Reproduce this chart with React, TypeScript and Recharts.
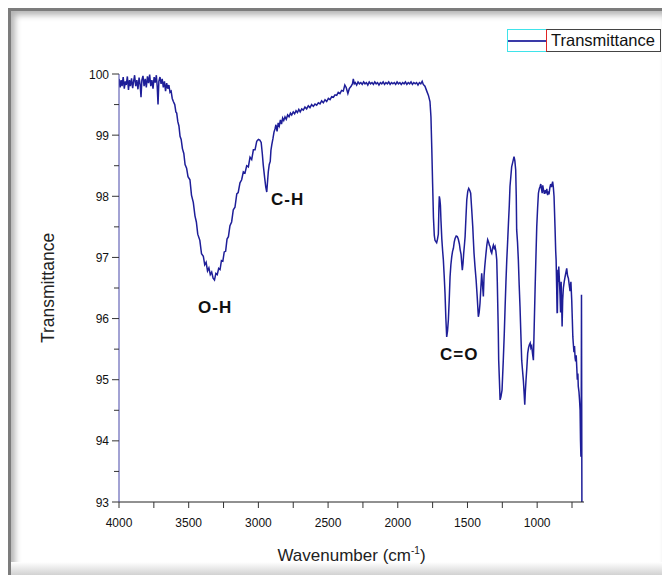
import { LineChart, Line, XAxis, YAxis, Label } from "recharts";

// FTIR spectrum (wavenumber descending)
const wavenumber = [
  4000, 3992, 3985, 3978, 3970, 3962, 3955, 3948, 3940, 3932, 3925, 3918, 3910, 3902, 3895, 3888,
  3880, 3872, 3864, 3856, 3848, 3842, 3836, 3828, 3820, 3812, 3804, 3796, 3788, 3780, 3772, 3764,
  3756, 3748, 3740, 3732, 3726, 3720, 3714, 3706, 3698, 3690, 3682, 3674, 3666, 3658, 3650, 3642,
  3634, 3626, 3618, 3610, 3600, 3592, 3586, 3578, 3570, 3562, 3554, 3545, 3535, 3526, 3515, 3505,
  3491, 3480, 3467, 3455, 3445, 3435, 3420, 3408, 3395, 3385, 3375, 3365, 3355, 3345, 3335, 3325,
  3315, 3305, 3295, 3285, 3275, 3265, 3255, 3245, 3235, 3225, 3215, 3204, 3192, 3180, 3168, 3155,
  3145, 3132, 3120, 3108, 3096, 3084, 3072, 3060, 3048, 3036, 3024, 3012, 3000, 2990, 2980, 2972,
  2965, 2955, 2947, 2940, 2934, 2929, 2922, 2915, 2910, 2904, 2895, 2888, 2881, 2874, 2866, 2858,
  2850, 2842, 2834, 2826, 2818, 2809, 2800, 2790, 2780, 2770, 2761, 2750, 2740, 2730, 2720, 2710,
  2700, 2689, 2678, 2666, 2654, 2642, 2630, 2618, 2606, 2594, 2582, 2570, 2558, 2546, 2534, 2522,
  2510, 2498, 2486, 2474, 2462, 2450, 2438, 2427, 2415, 2403, 2391, 2380, 2370, 2358, 2348, 2335,
  2325, 2319, 2312, 2305, 2295, 2285, 2275, 2265, 2255, 2245, 2235, 2225, 2215, 2205, 2195, 2185,
  2175, 2165, 2155, 2145, 2135, 2125, 2115, 2105, 2095, 2085, 2075, 2065, 2055, 2045, 2035, 2025,
  2015, 2005, 1995, 1985, 1975, 1965, 1955, 1945, 1935, 1925, 1915, 1905, 1895, 1885, 1875, 1865,
  1855, 1845, 1835, 1825, 1817, 1805, 1792, 1780, 1769, 1762, 1756, 1750, 1744, 1738, 1733, 1727,
  1721, 1715, 1709, 1705, 1702, 1698, 1694, 1690, 1684, 1678, 1673, 1667, 1661, 1655, 1649, 1643,
  1637, 1631, 1625, 1619, 1613, 1607, 1601, 1595, 1589, 1581, 1573, 1566, 1558, 1552, 1546, 1541,
  1537, 1532, 1527, 1522, 1517, 1511, 1505, 1498, 1491, 1484, 1477, 1470, 1462, 1458, 1453, 1446,
  1438, 1430, 1422, 1416, 1410, 1404, 1398, 1392, 1386, 1381, 1376, 1372, 1367, 1361, 1355, 1348,
  1343, 1338, 1332, 1326, 1320, 1314, 1308, 1302, 1296, 1290, 1286, 1283, 1279, 1276, 1271, 1266,
  1260, 1252, 1248, 1243, 1236, 1230, 1224, 1218, 1212, 1206, 1200, 1195, 1189, 1183, 1175, 1166,
  1160, 1154, 1150, 1147, 1141, 1135, 1129, 1123, 1117, 1111, 1105, 1099, 1094, 1089, 1085, 1080,
  1074, 1068, 1062, 1056, 1050, 1045, 1039, 1033, 1027, 1021, 1015, 1009, 1003, 997, 991, 985,
  979, 974, 969, 964, 960, 954, 948, 942, 936, 931, 925, 920, 915, 909, 903, 897,
  889, 884, 879, 872, 867, 864, 860, 857, 855, 851, 848, 845, 840, 836, 832, 828,
  824, 821, 817, 812, 806, 800, 794, 788, 782, 776, 770, 764, 758, 752, 748, 744,
  741, 736, 732, 728, 724, 720, 716, 712, 708, 705, 700, 696, 692, 689, 686, 684,
  682, 679,
];

const transmittance = [
  99.92, 99.78, 99.9, 99.8, 99.95, 99.76, 99.88, 99.82, 99.96, 99.74, 99.9, 99.8, 99.93, 99.77, 99.88, 99.98,
  99.8, 99.9, 99.75, 99.94, 99.82, 99.62, 99.9, 99.97, 99.8, 99.92, 99.78, 99.96, 99.85, 99.99, 99.8, 99.9,
  99.76, 99.95, 99.86, 99.98, 99.8, 99.5, 99.88, 99.95, 99.84, 99.92, 99.78, 99.88, 99.72, 99.85, 99.76, 99.82,
  99.7, 99.72, 99.6, 99.55, 99.5, 99.38, 99.36, 99.22, 99.15, 98.98, 98.93, 98.78, 98.7, 98.52, 98.46, 98.32,
  98.27, 98.02, 97.9, 97.68, 97.58, 97.38, 97.28, 97.06, 97.02, 96.88, 96.92, 96.78, 96.83, 96.72, 96.76, 96.66,
  96.63, 96.74, 96.72, 96.82, 96.8, 96.95, 96.94, 97.09, 97.1, 97.3, 97.34, 97.52, 97.58, 97.78, 97.82, 98.04,
  98.06, 98.22, 98.27, 98.4, 98.38, 98.5, 98.48, 98.64, 98.6, 98.76, 98.76, 98.9, 98.93, 98.92, 98.88, 98.7,
  98.51, 98.3, 98.15, 98.07, 98.25, 98.4, 98.52, 98.57, 98.75, 98.84, 98.95, 99.05, 99.1, 99.17, 99.06, 99.2,
  99.15, 99.25, 99.18, 99.28, 99.24, 99.3, 99.26, 99.33, 99.3, 99.36, 99.33, 99.38, 99.35, 99.4, 99.37, 99.42,
  99.38, 99.43, 99.41, 99.46, 99.43, 99.48, 99.45, 99.5, 99.47, 99.51, 99.49, 99.53, 99.51, 99.56, 99.53, 99.58,
  99.55, 99.6, 99.58, 99.63, 99.62, 99.66, 99.65, 99.7, 99.68, 99.73, 99.72, 99.82, 99.78, 99.68, 99.76, 99.8,
  99.84, 99.92, 99.84, 99.86, 99.82, 99.87, 99.84, 99.86, 99.83, 99.87, 99.84, 99.86, 99.82, 99.87, 99.84, 99.86,
  99.83, 99.87, 99.84, 99.86, 99.82, 99.86, 99.84, 99.87, 99.83, 99.86, 99.84, 99.87, 99.83, 99.86, 99.84, 99.86,
  99.83, 99.87, 99.84, 99.86, 99.83, 99.86, 99.84, 99.87, 99.83, 99.86, 99.84, 99.87, 99.83, 99.86, 99.84, 99.86,
  99.82, 99.86, 99.84, 99.88, 99.83, 99.8, 99.72, 99.65, 99.55, 99.3, 98.78, 98.2, 97.65, 97.36, 97.28, 97.26,
  97.24, 97.3, 97.38, 97.8, 98.0, 97.95, 97.85, 97.6, 97.3, 97.1, 96.96, 96.7, 96.41, 96.0, 95.7, 95.8,
  95.98, 96.3, 96.68, 96.88, 97.01, 97.1, 97.15, 97.25, 97.31, 97.35, 97.34, 97.3, 97.22, 97.12, 97.05, 96.9,
  96.79, 96.9, 97.07, 97.2, 97.34, 97.65, 97.94, 98.08, 98.13, 98.1, 98.05, 97.8, 97.5, 97.3, 97.07, 96.85,
  96.63, 96.35, 96.03, 96.1, 96.25, 96.5, 96.74, 96.55, 96.36, 96.7, 96.85, 96.95, 97.07, 97.2, 97.29, 97.25,
  97.2, 97.18, 97.1, 97.07, 97.15, 97.2, 97.15, 97.18, 97.1, 96.96, 96.6, 96.25, 95.8, 95.32, 95.0, 94.67,
  94.72, 94.83, 95.05, 95.32, 95.75, 96.19, 96.6, 96.96, 97.25, 97.56, 97.85, 98.16, 98.32, 98.48, 98.56, 98.65,
  98.58, 98.43, 98.0, 97.45, 97.25, 96.96, 96.55, 96.19, 95.75, 95.32, 95.15, 94.99, 94.8, 94.59, 94.8, 94.99,
  95.2, 95.43, 95.52, 95.57, 95.6, 95.52, 95.55, 95.42, 95.32, 95.9, 96.47, 97.0, 97.5, 97.8, 98.05, 98.12,
  98.16, 98.2, 98.12, 98.05, 98.18, 98.1, 98.04, 98.1, 98.05, 98.12, 98.02, 98.08, 98.03, 98.14, 98.2, 98.15,
  98.24, 98.15, 98.0, 97.5, 97.1, 96.96, 96.5, 96.1, 96.09, 96.8, 96.6, 96.85, 96.6, 96.4, 96.1, 96.6,
  96.2, 95.87, 96.3, 96.5, 96.6, 96.68, 96.75, 96.82, 96.7, 96.66, 96.55, 96.45, 96.6, 96.3, 96.0, 95.7,
  95.6, 95.45, 95.55, 95.36, 95.3, 95.4, 95.21, 95.0, 95.1, 94.89, 94.8, 94.67, 94.5, 94.0, 93.74, 94.2,
  96.39, 93.0,
];

const xTicks = [4000, 3750, 3500, 3250, 3000, 2750, 2500, 2250, 2000, 1750, 1500, 1250, 1000, 750];
const yTicks = [93, 93.5, 94, 94.5, 95, 95.5, 96, 96.5, 97, 97.5, 98, 98.5, 99, 99.5, 100];

const data = wavenumber.map((w, i) => ({ w, t: transmittance[i] }));

const FONT = "Arial, 'Liberation Sans', sans-serif";

function YTick(props: any) {
  const { x, y, payload } = props;
  const major = Number.isInteger(payload.value);
  return (
    <g>
      <line x1={x - (major ? 7 : 5)} x2={x} y1={y} y2={y} stroke="#333" strokeWidth={1} />
      {major && (
        <text x={x - 10} y={y} dy={4.5} textAnchor="end" fontSize={12} fontFamily={FONT} fill="#111">
          {payload.value}
        </text>
      )}
    </g>
  );
}

function XTick(props: any) {
  const { x, y, payload } = props;
  const major = payload.value % 500 === 0;
  return (
    <g>
      <line x1={x} x2={x} y1={y} y2={y + 6} stroke="#333" strokeWidth={1} />
      {major && (
        <text x={x} y={y + 25} textAnchor="middle" fontSize={12} fontFamily={FONT} fill="#111">
          {payload.value}
        </text>
      )}
    </g>
  );
}

function XTitle(props: any) {
  const { viewBox } = props;
  const cx = viewBox.x + viewBox.width / 2;
  return (
    <text x={cx} y={viewBox.y + 59} textAnchor="middle" fontSize={17} fontFamily={FONT} fill="#222">
      <tspan>Wavenumber (cm</tspan>
      <tspan dy={-7} fontSize={10}>-1</tspan>
      <tspan dy={7}>)</tspan>
    </text>
  );
}

function YTitle(props: any) {
  const { viewBox } = props;
  const cy = viewBox.y + viewBox.height / 2;
  return (
    <text
      x={48}
      y={cy}
      transform={`rotate(-90 48 ${cy})`}
      textAnchor="middle"
      dominantBaseline="central"
      fontSize={17.5}
      fontFamily={FONT}
      fill="#222"
    >
      Transmittance
    </text>
  );
}

const note = { position: "absolute" as const, fontFamily: FONT, fontWeight: 700, fontSize: 17, color: "#111", lineHeight: 1 };

export default function App() {
  return (
    <div style={{ position: "absolute", left: 0, top: 0, width: 662, height: 575, background: "#fff", overflow: "hidden" }}>
      {/* gray frame */}
      <div
        style={{
          position: "absolute",
          left: 8,
          top: 8,
          width: 654,
          height: 567,
          borderTop: "3px solid #7c7c7c",
          borderLeft: "3px solid #7c7c7c",
          boxSizing: "border-box",
          boxShadow: "inset 4px 4px 6px rgba(0,0,0,0.3)",
        }}
      />
      <div style={{ position: "absolute", left: 11, top: 562, width: 651, height: 13, background: "linear-gradient(#ffffff, #d2d2d2)" }} />

      <div style={{ position: "absolute", left: 0, top: 0 }}>
        <LineChart width={662} height={575} data={data} margin={{ top: 74, right: 78, bottom: 43, left: 59 }}>
          <XAxis
            dataKey="w"
            type="number"
            domain={[664, 4000]}
            reversed
            ticks={xTicks}
            interval={0}
            height={30}
            tickSize={0}
            tickMargin={0}
            tickLine={false}
            tick={<XTick />}
            stroke="#222"
            allowDataOverflow
          >
            <Label content={<XTitle />} />
          </XAxis>
          <YAxis
            type="number"
            domain={[93, 100]}
            ticks={yTicks}
            interval={0}
            width={60}
            tickSize={0}
            tickMargin={0}
            tickLine={false}
            tick={<YTick />}
            stroke="#4646a8"
            allowDataOverflow
          >
            <Label content={<YTitle />} />
          </YAxis>
          <Line
            dataKey="t"
            type="linear"
            stroke="#1e1e98"
            strokeWidth={1.5}
            dot={false}
            isAnimationActive={false}
          />
        </LineChart>
      </div>

      {/* band annotations */}
      <div style={{ ...note, left: 271, top: 191, letterSpacing: 1 }}>C-H</div>
      <div style={{ ...note, left: 198, top: 299, letterSpacing: 1 }}>O-H</div>
      <div style={{ ...note, left: 440, top: 346, letterSpacing: 1 }}>C=O</div>

      {/* legend */}
      <div style={{ position: "absolute", left: 507, top: 29, width: 40, height: 23, border: "1px solid #3fe3ea", boxSizing: "border-box" }}>
        <div style={{ position: "absolute", left: 0, right: 0, top: 10, height: 2, background: "#3a3aa8" }} />
      </div>
      <div
        style={{
          position: "absolute",
          left: 546,
          top: 29,
          width: 115,
          height: 23,
          border: "1px solid #444",
          borderLeft: "1px solid #e02424",
          boxSizing: "border-box",
          fontFamily: FONT,
          fontSize: 16.5,
          lineHeight: "21px",
          paddingLeft: 4,
          color: "#111",
          whiteSpace: "nowrap",
        }}
      >
        Transmittance
      </div>
    </div>
  );
}
